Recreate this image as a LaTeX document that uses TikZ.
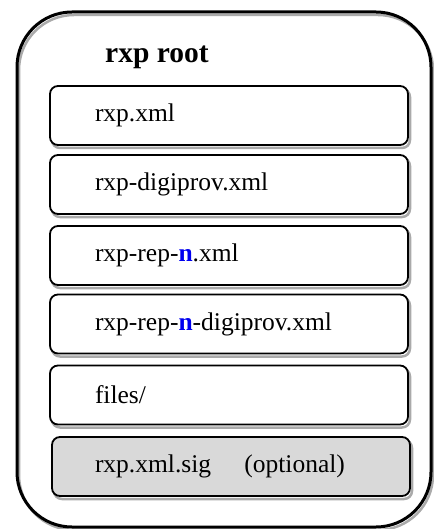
\documentclass[tikz,border=0pt]{standalone}
\usepackage{fontspec}
\setmainfont{Liberation Serif}
\definecolor{boxgray}{RGB}{217,217,217}
\definecolor{shadowgray}{RGB}{170,170,170}
\definecolor{nblue}{RGB}{0,0,240}
\begin{document}
\begin{tikzpicture}[x=1pt,y=-1pt,
  shadowed/.style={preaction={draw=shadowgray,line width=2.5pt,
      transform canvas={xshift=2pt,yshift=-3pt}}},
  outerbox/.style={shadowed,draw=black,line width=3pt,rounded corners=55pt,
      minimum width=414pt,minimum height=515pt,inner sep=0pt},
  filebox/.style={shadowed,draw=black,fill=white,line width=1.8pt,rounded corners=8pt,
      minimum height=59pt,text width=268pt,inner xsep=45pt,inner ysep=0pt,
      align=left,font=\fontsize{25.5}{29}\selectfont},
  titletext/.style={font=\fontsize{29.5}{33}\selectfont\bfseries,anchor=base west,inner sep=0pt}
]
\useasboundingbox (0,0) rectangle (433,529);
\node[outerbox] (root) at (224,269.5) {};
\node[titletext] (title) at (105,63) {rxp root};
\node[filebox] (b1) at (229,115.5) {rxp.xml};
\node[filebox] (b2) at (229,184.5) {rxp-digiprov.xml};
\node[filebox] (b3) at (229,255.5) {rxp-rep-\textcolor{nblue}{\textbf{n}}.xml};
\node[filebox] (b4) at (229,324) {rxp-rep-\textcolor{nblue}{\textbf{n}}-digiprov.xml};
\node[filebox] (b5) at (229,395) {files/};
\node[filebox,fill=boxgray,inner xsep=43pt,text width=272pt] (b6) at (231,466.5) {rxp.xml.sig\hspace{1.3em}(optional)};
\end{tikzpicture}
\end{document}
